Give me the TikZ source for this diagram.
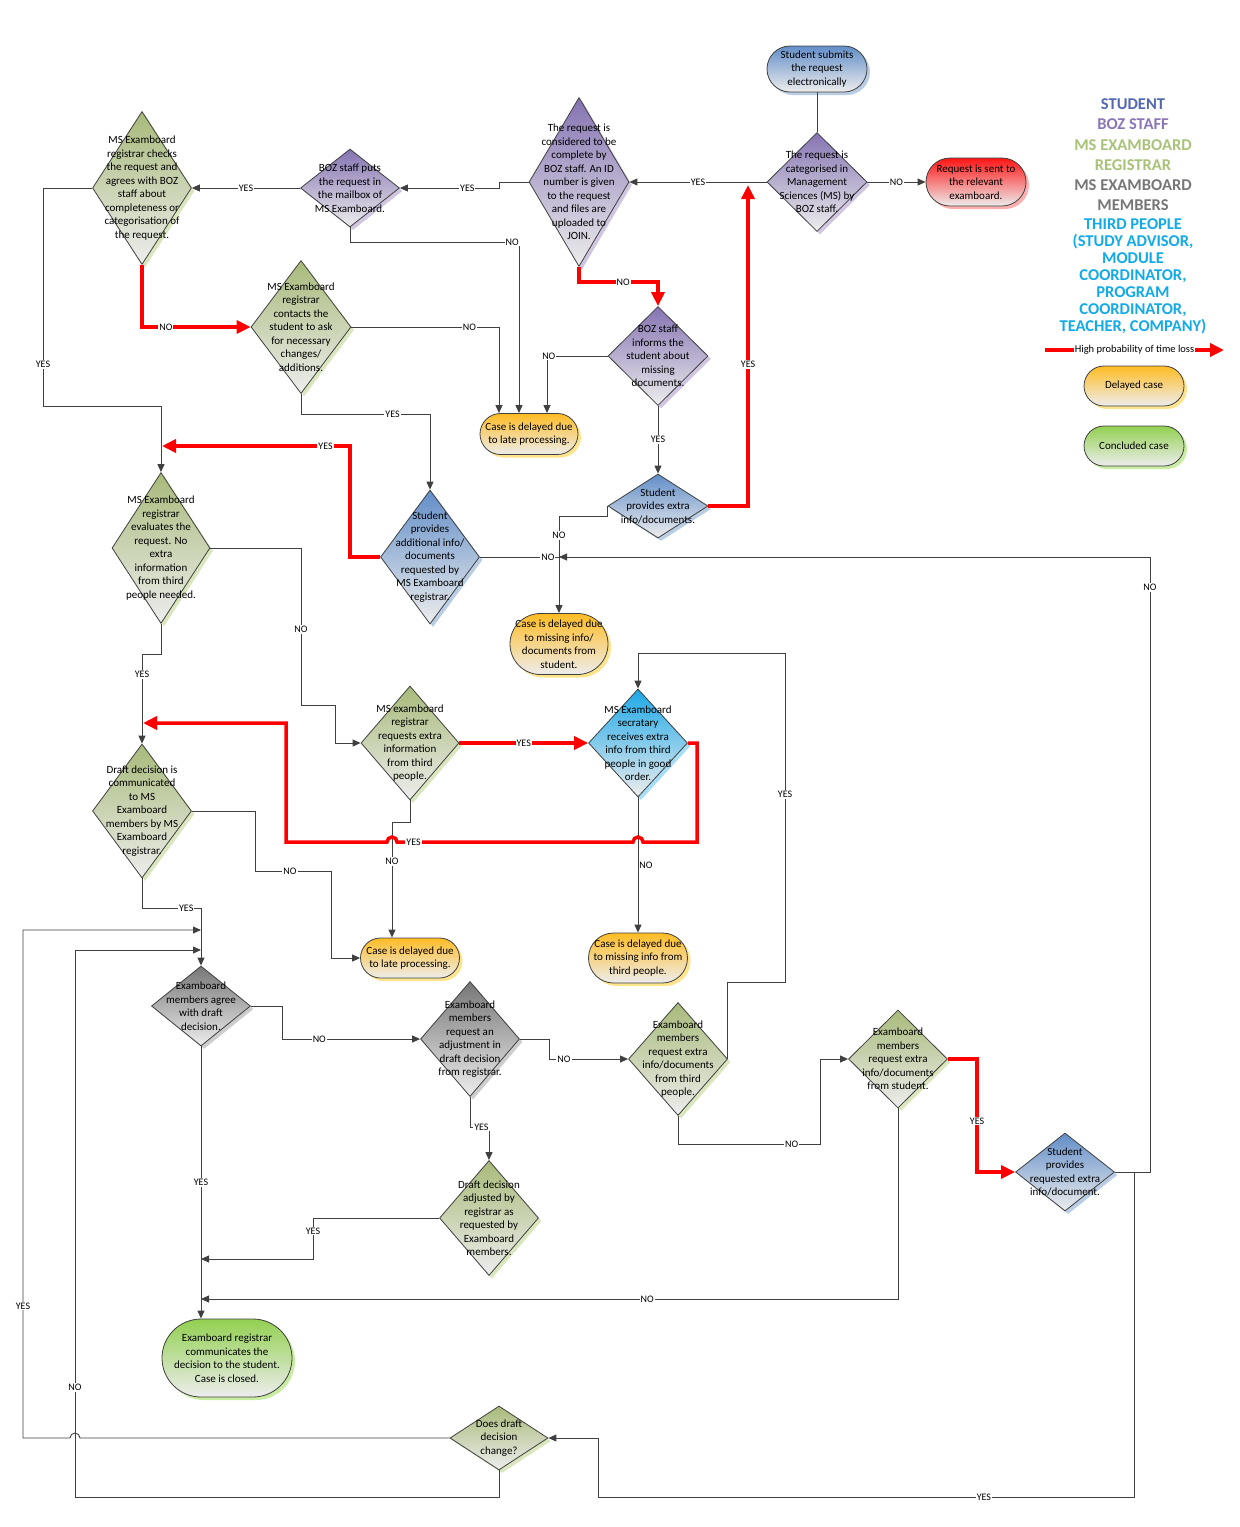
\documentclass[tikz,border=0pt]{standalone}
\usepackage{fontspec}
\setmainfont{Carlito}
\usetikzlibrary{shapes.geometric,shapes.misc,shadows,arrows.meta}

\definecolor{linegrey}{RGB}{64,64,64}
\definecolor{lowgrey}{RGB}{237,237,237}
\definecolor{stuc}{RGB}{98,142,200}
\definecolor{stush}{RGB}{185,205,229}
\definecolor{bozc}{RGB}{133,115,178}
\definecolor{bozsh}{RGB}{208,198,226}
\definecolor{regc}{RGB}{168,186,122}
\definecolor{regsh}{RGB}{218,230,190}
\definecolor{memc}{RGB}{118,118,118}
\definecolor{memsh}{RGB}{205,205,205}
\definecolor{thic}{RGB}{28,168,232}
\definecolor{thish}{RGB}{165,222,246}
\definecolor{delc}{RGB}{255,188,36}
\definecolor{delsh}{RGB}{255,228,140}
\definecolor{conc}{RGB}{146,208,80}
\definecolor{consh}{RGB}{200,236,160}
\definecolor{senc}{RGB}{255,20,20}
\definecolor{sensh}{RGB}{255,175,175}
\definecolor{lstu}{RGB}{84,104,178}
\definecolor{lboz}{RGB}{138,118,182}
\definecolor{lreg}{RGB}{168,194,120}
\definecolor{lmem}{RGB}{118,118,118}
\definecolor{lthi}{RGB}{18,170,232}

\tikzset{
  ln/.style={draw=linegrey, line width=0.9pt, >={Triangle[length=8pt,width=7pt]}},
  redln/.style={draw=red, line width=3.5pt, >={Triangle[length=14pt,width=13pt]}},
  lbl/.style={fill=white, inner sep=1pt, font=\fontsize{10}{11}\selectfont},
  dia/.style={diamond, draw=linegrey, line width=0.8pt, inner sep=0pt, minimum width=99pt, bottom color=lowgrey},
  term/.style={rounded rectangle, draw=linegrey, line width=0.8pt, inner sep=0pt, minimum width=99pt, bottom color=lowgrey},
  txt/.style={align=center, inner sep=0pt, font=\fontsize{11}{13.5}\selectfont},
  leg/.style={align=center, inner sep=0pt, font=\bfseries\fontsize{16.5}{20}\selectfont},
  stu/.style={top color=stuc, general shadow={fill=stush, shadow xshift=3pt, shadow yshift=-3pt}},
  boz/.style={top color=bozc, general shadow={fill=bozsh, shadow xshift=3pt, shadow yshift=-3pt}},
  reg/.style={top color=regc, general shadow={fill=regsh, shadow xshift=3pt, shadow yshift=-3pt}},
  mem/.style={top color=memc, general shadow={fill=memsh, shadow xshift=3pt, shadow yshift=-3pt}},
  thi/.style={top color=thic, general shadow={fill=thish, shadow xshift=3pt, shadow yshift=-3pt}},
  del/.style={top color=delc, general shadow={fill=delsh, shadow xshift=3pt, shadow yshift=-3pt}},
  con/.style={top color=conc, general shadow={fill=consh, shadow xshift=3pt, shadow yshift=-3pt}},
  sen/.style={top color=senc, general shadow={fill=sensh, shadow xshift=3pt, shadow yshift=-3pt}}
}

\begin{document}
\begin{tikzpicture}[x=1pt,y=-1pt]
\useasboundingbox (0,0) rectangle (1240,1527);

\node[term, stu, minimum width=100pt, minimum height=46pt] (sub) at (817,69) {};
\node[txt] (subT) at (sub) {Student submits\\the request\\electronically};
\node[dia, boz, minimum width=100pt, minimum height=99pt] (cat) at (817,182) {};
\node[txt] (catT) at (cat) {The request is\\categorised in\\Management\\Sciences (MS) by\\BOZ staff.};
\node[term, sen, minimum width=100pt, minimum height=48pt] (sent) at (976,182) {};
\node[txt] (sentT) at (sent) {Request is sent to\\the relevant\\examboard.};
\node[dia, boz, minimum width=100pt, minimum height=169pt] (cmpl) at (579,182) {};
\node[txt] (cmplT) at (cmpl) {The request is\\considered to be\\complete by\\BOZ staff. An ID\\number is given\\to the request\\and files are\\uploaded to\\JOIN.};
\node[dia, boz, minimum height=78pt] (mbox) at (350,188) {};
\node[txt] (mboxT) at (mbox) {BOZ staff puts\\the request in\\the mailbox of\\MS Examboard.};
\node[dia, reg, minimum height=153pt] (chk) at (142,188) {};
\node[txt] (chkT) at (chk) {MS Examboard\\registrar checks\\the request and\\agrees with BOZ\\staff about\\completeness or\\categorisation of\\the request.};
\node[dia, reg, minimum width=100pt, minimum height=133pt] (cont) at (301,327) {};
\node[txt] (contT) at (cont) {MS Examboard\\registrar\\contacts the\\student to ask\\for necessary\\changes/\\additions.};
\node[term, del, minimum width=98pt, minimum height=41pt] (late1) at (529,434) {};
\node[txt] (late1T) at (late1) {Case is delayed due\\to late processing.};
\node[dia, boz, minimum width=100pt, minimum height=99pt] (inform) at (658,356) {};
\node[txt] (informT) at (inform) {BOZ staff\\informs the\\student about\\missing\\documents.};
\node[dia, stu, minimum width=100pt, minimum height=64pt] (extra) at (658,506) {};
\node[txt] (extraT) at (extra) {Student\\provides extra\\info/documents.};
\node[dia, stu, minimum height=134pt] (addl) at (430,557) {};
\node[txt] (addlT) at (addl) {Student\\provides\\additional info/\\documents\\requested by\\MS Examboard\\registrar.};
\node[term, del, minimum width=98pt, minimum height=61pt] (miss1) at (559,644) {};
\node[txt] (miss1T) at (miss1) {Case is delayed due\\to missing info/\\documents from\\student.};
\node[dia, reg, minimum width=98pt, minimum height=151pt] (eval) at (161,548) {};
\node[txt] (evalT) at (eval) {MS Examboard\\registrar\\evaluates the\\request. No\\extra\\information\\from third\\people needed.};
\node[dia, reg, minimum width=98pt, minimum height=114pt] (third) at (410,743) {};
\node[txt] (thirdT) at (third) {MS examboard\\registrar\\requests extra\\information\\from third\\people.};
\node[dia, thi, minimum height=108pt] (secr) at (638,743) {};
\node[txt] (secrT) at (secr) {MS Examboard\\secratary\\receives extra\\info from third\\people in good\\order.};
\node[term, del, minimum height=50pt] (miss2) at (638,958) {};
\node[txt] (miss2T) at (miss2) {Case is delayed due\\to missing info from\\third people.};
\node[term, del, minimum height=40pt] (late2) at (410,958) {};
\node[txt] (late2T) at (late2) {Case is delayed due\\to late processing.};
\node[dia, reg, minimum height=134pt] (draft) at (142,811) {};
\node[txt] (draftT) at (draft) {Draft decision is\\communicated\\to MS\\Examboard\\members by MS\\Examboard\\registrar.};
\node[dia, mem, minimum height=80pt] (agree) at (201,1006) {};
\node[txt] (agreeT) at (agree) {Examboard\\members agree\\with draft\\decision.};
\node[dia, mem, minimum height=115pt] (adjreq) at (470,1039) {};
\node[txt] (adjreqT) at (adjreq) {Examboard\\members\\request an\\adjustment in\\draft decision\\from registrar.};
\node[dia, reg, minimum height=115pt] (adj) at (489,1218) {};
\node[txt] (adjT) at (adj) {Draft decision\\adjusted by\\registrar as\\requested by\\Examboard\\members.};
\node[dia, reg, minimum height=113pt] (mthird) at (678,1059) {};
\node[txt] (mthirdT) at (mthird) {Examboard\\members\\request extra\\info/documents\\from third\\people.};
\node[dia, reg, minimum height=98pt] (mstud) at (898,1059) {};
\node[txt] (mstudT) at (mstud) {Examboard\\members\\request extra\\info/documents\\from student.};
\node[dia, stu, minimum height=78pt] (sprov) at (1065,1172) {};
\node[txt] (sprovT) at (sprov) {Student\\provides\\requested extra\\info/document.};
\node[term, con, minimum width=130pt, minimum height=78pt] (closed) at (227,1358) {};
\node[txt] (closedT) at (closed) {Examboard registrar\\communicates the\\decision to the student.\\Case is closed.};
\node[dia, reg, minimum width=98pt, minimum height=64pt] (chg) at (499,1438) {};
\node[txt] (chgT) at (chg) {Does draft\\decision\\change?};

\coordinate (jcat) at (748,185);
\coordinate (jeval) at (162,446);
\coordinate (jdraft) at (143,723);
\coordinate (jmiss) at (559,557);
\coordinate (jag1) at (201,930);
\coordinate (jag2) at (201,950);
\coordinate (jcl1) at (201,1259);
\coordinate (jcl2) at (201,1299);

\draw[ln] (sub.south) -- (cat.north);
\draw[ln,->] (cat.east) -- node[lbl]{NO} (sent.west);
\draw[ln,->] (cat.west) -- node[lbl]{YES} (cmpl.east);
\draw[ln,->] (cmpl.west) -- (499,182) -- (499,188) -- node[lbl,pos=0.32]{YES} (mbox.east);
\draw[ln,->] (mbox.west) -- node[lbl]{YES} (chk.east);
\draw[redln,->] (chk.south) -- (142,327) -- node[lbl,pos=0.22]{NO} (cont.west);
\draw[ln,->] (mbox.south) -- (350,242) -- node[lbl,pos=0.96]{NO} (519,242) -- ([xshift=-10pt]late1.north);
\draw[ln,->] (cont.east) -- node[lbl,pos=0.8]{NO} (499,327) -- ([xshift=-30pt]late1.north);
\draw[ln,->] (inform.west) -- node[lbl,pos=0.97]{NO} (547,356) -- ([xshift=18pt]late1.north);
\draw[redln,->] (cmpl.south) -- (579,282) -- node[lbl,pos=0.56]{NO} (658,282) -- (inform.north);
\draw[ln,->] (inform.south) -- node[lbl]{YES} (extra.north);
\draw[redln,->] (extra.east) -- (748,506) -- node[lbl,pos=0.44]{YES} (jcat);
\draw[ln,->] (extra.west) |- (559,516) -- node[lbl,pos=0.2]{NO} (miss1.north);
\draw[ln] (addl.east) -- node[lbl,pos=0.86]{NO} (jmiss);
\draw[redln,->] (addl.west) -- (350,557) -- (350,446) -- node[lbl,pos=0.13]{YES} (jeval);
\draw[ln,->] (cont.south) -- (301,414) -- node[lbl,pos=0.71]{YES} (430,414) -- (addl.north);
\draw[ln,->] (chk.west) -- (43,188) -- node[lbl,pos=0.81]{YES} (43,406) -- (161,406) -- (eval.north);
\draw[ln,->] (eval.east) -- (301,548) -- node[lbl,pos=0.52]{NO} (301,705) -- (335,705) -- (335,743) -- (third.west);
\draw[redln,->] (third.east) -- node[lbl]{YES} (secr.west);
\draw[ln,->] (secr.south) -- node[lbl,pos=0.5,xshift=8pt,fill=none]{NO} (miss2.north);
\draw[ln,->] (third.south) -- (410,822) -- (392,822) -- node[lbl,pos=0.34]{NO} ([xshift=-18pt]late2.north);
\draw[redln,->] (secr.east) -- (697,743) -- (697,842) -- (643,842) arc (0:180:5pt) -- node[lbl,pos=0.93]{YES} (397,842) arc (0:180:5pt) -- (286,842) -- (286,723) -- (jdraft);
\draw[ln,->] (draft.east) -- (255,811) -- (255,871) -- node[lbl,pos=0.46]{NO} (331,871) -- (331,958) -- (late2.west);
\draw[ln,->] (eval.south) -- (161,654) -- (142,654) -- node[lbl,pos=0.23]{YES} (draft.north);
\draw[ln,->] (draft.south) -- (142,908) -- node[lbl,pos=0.75]{YES} (201,908) -- (agree.north);
\draw[ln,->] (agree.east) -- (282,1006) -- (282,1039) -- node[lbl,pos=0.27]{NO} (adjreq.west);
\draw[ln,->] (adjreq.south) -- (470,1127) -- node[lbl,pos=0.6]{YES} (489,1127) -- (adj.north);
\draw[ln,->] (adj.west) -- (313,1218) -- node[lbl,pos=0.32]{YES} (313,1259) -- (jcl1);
\draw[ln,->] (adjreq.east) -- (549,1039) -- (549,1059) -- node[lbl,pos=0.19]{NO} (mthird.west);
\draw[ln,->] (mthird.east) |- (785,982) -- node[lbl,pos=0.57]{YES} (785,653) -- (638,653) -- (secr.north);
\draw[ln,->] (mthird.south) -- (678,1144) -- node[lbl,pos=0.8]{NO} (820,1144) -- (820,1059) -- (mstud.west);
\draw[redln,->] (mstud.east) -- (977,1059) -- node[lbl,pos=0.55]{YES} (977,1172) -- (sprov.west);
\draw[ln,->] (sprov.east) -- (1150,1172) -- node[lbl,pos=0.95]{NO} (1150,557) -- (jmiss);
\draw[ln,->] (sprov.east) -- (1134,1172) -- (1134,1497) -- node[lbl,pos=0.28]{YES} (598,1497) -- (598,1438) -- (chg.east);
\draw[ln,->] (mstud.south) -- (898,1299) -- node[lbl,pos=0.36]{NO} (jcl2);
\draw[ln,->] (agree.south) -- node[lbl]{YES} ([xshift=-26pt]closed.north);
\draw[ln,->] (chg.west) -- (80,1438) arc (0:180:5pt) -- (23,1438) -- node[lbl,pos=0.26]{YES} (23,930) -- (jag1);
\draw[ln,->] (chg.south) -- (499,1497) -- (75,1497) -- node[lbl,pos=0.2]{NO} (75,950) -- (jag2);

\node[leg, text=lstu] (lstud) at (1133,104) {STUDENT};
\node[leg, text=lboz] (lbozs) at (1133,124) {BOZ STAFF};
\node[leg, text=lreg] (lregs) at (1133,155) {MS EXAMBOARD\\REGISTRAR};
\node[leg, text=lmem] (lmems) at (1133,195) {MS EXAMBOARD\\MEMBERS};
\node[leg, text=lthi, font=\bfseries\fontsize{16.5}{17}\selectfont] (lthis) at (1133,276) {THIRD PEOPLE\\(STUDY ADVISOR,\\MODULE\\COORDINATOR,\\PROGRAM\\COORDINATOR,\\TEACHER, COMPANY)};
\coordinate (lossA) at (1045,350);
\coordinate (lossB) at (1224,350);
\draw[redln,->] (lossA) -- node[fill=white, inner sep=1pt, font=\fontsize{10.5}{12}\selectfont]{High probability of time loss} (lossB);
\node[term, del, minimum width=100pt, minimum height=40pt] (ldel) at (1134,386) {};
\node[txt] (ldelT) at (ldel) {Delayed case};
\node[term, con, minimum width=100pt, minimum height=40pt] (lcon) at (1134,446) {};
\node[txt] (lconT) at (lcon) {Concluded case};
\end{tikzpicture}
\end{document}
